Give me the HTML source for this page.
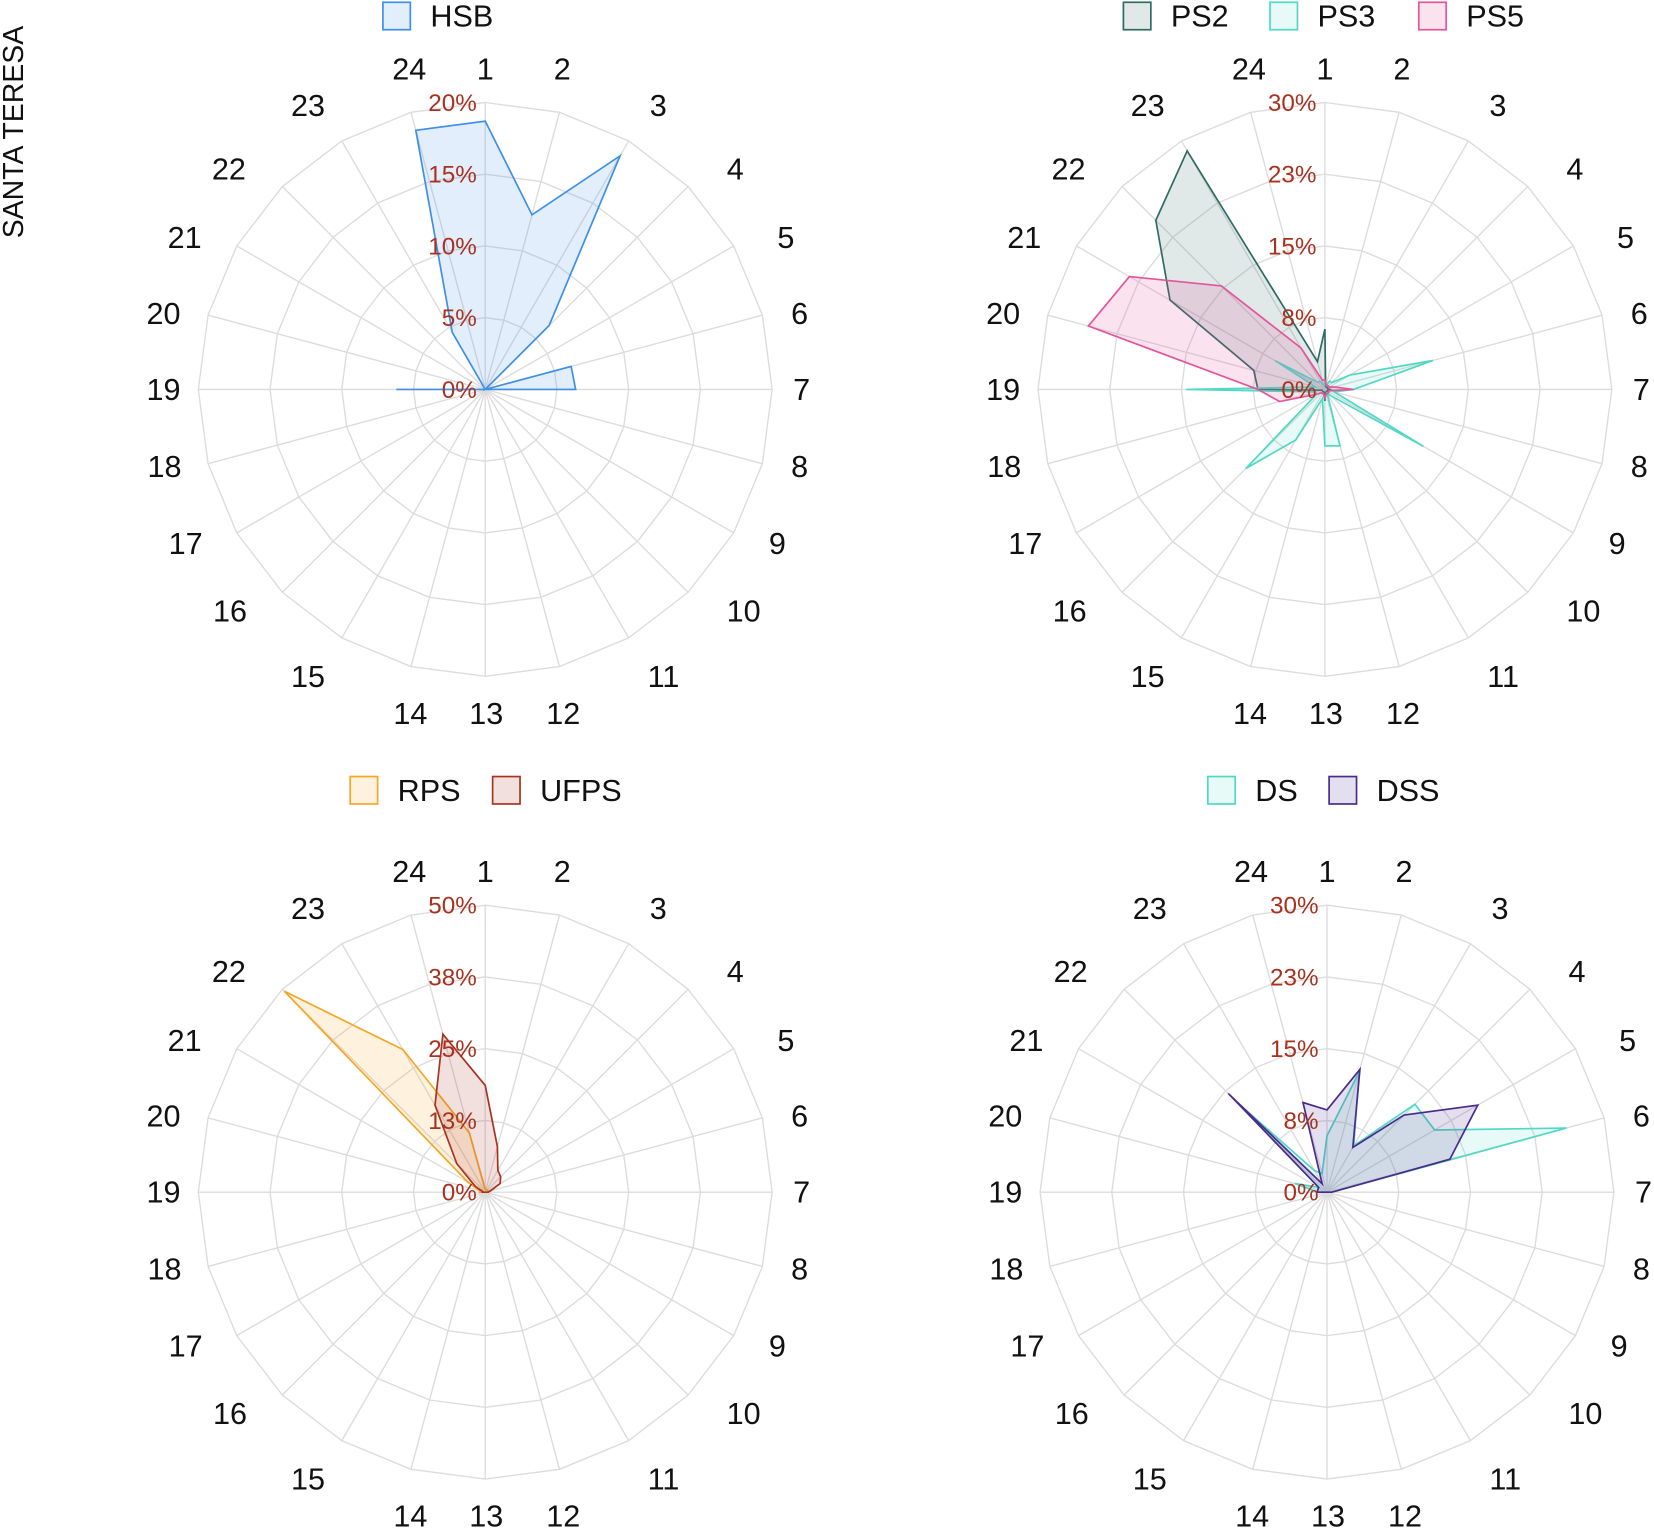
<!DOCTYPE html>
<html><head><meta charset="utf-8"><style>
html,body{margin:0;padding:0;background:#fff;}
svg{display:block;font-family:"Liberation Sans",Arial,sans-serif;}
</style></head><body>
<svg id="chart" width="1654" height="1532" viewBox="0 0 1568 1452" xmlns="http://www.w3.org/2000/svg">
<text x="0" y="0" transform="translate(22,125) rotate(-90)" text-anchor="middle" font-size="27" fill="#111">SANTA TERESA</text>
</svg>
<script>
const hours = ["1","2","3","4","5","6","7","8","9","10","11","12","13","14","15","16","17","18","19","20","21","22","23","24"];
const hsb  = [18.7,12.6,18.8,6.3,0,6.2,6.3,0,0,0,0,0,0,0,0,0,0,0,6.2,0,0,0,4.6,18.7];
const ps2  = [6.3,0.3,0.3,0.3,0.3,0.3,0.5,0.3,0.3,0.3,0.3,0.3,1.2,0.3,0.3,0.3,0.3,0.3,7,7.7,18.7,25,28.8,3];
const ps3  = [0.5,0.5,1,1,3,11.7,3,1,11.9,1,0.5,6.1,5.9,1,6.1,11.7,1,1,14.5,1,6,1,1,0.5];
const ps5  = [1,0.5,0.5,0.5,0.5,1,3,0.5,0.5,0.5,0.5,0.5,1,0.5,0.5,0.5,1,4.9,7,25.6,23.6,15.3,5,1];
const rps  = [0.5,0.5,0.5,0.5,0.5,0.5,0.5,0,0,0,0,0,0,0,0,0,0,0,1,1,3.5,49.5,28.7,10.7];
const ufps = [18.6,8.2,4.4,3.8,3,1,0.5,0,0,0,0,0,0,0,0,0,0,0,0.5,0.5,2,7,17.5,28.5];
const ds   = [5.9,13,5.6,13,13,25.9,0.5,0,0,0,0,0,0,0,0,0,0,0,1,3.5,1,13.1,2.6,2];
const dss  = [8.6,13.3,5.4,11.4,18.2,13.3,0.5,0,0,0,0,0,0,0,0,0,0,0,1,1,1,14.6,1,9.7];
const ticks1 = ["0%","5%","10%","15%","20%"];
const ticks2 = ["0%","8%","15%","23%","30%"];
const ticks3 = ["0%","13%","25%","38%","50%"];
const ticks4 = ["0%","8%","15%","23%","30%"];
const max1 = 20, max2 = 30, max3 = 50, max4 = 30;

const NS = "http://www.w3.org/2000/svg";
const svg = document.getElementById("chart");
const R = 272;
const lblOff = [[0,-304],[73,-304],[164,-269],[237,-209],[285,-144],[298,-72],[300,0],[298,73],[277,146],[245,210],[169,272],[74,307],[1,307],[-71,307],[-168,272],[-242,210],[-284,146],[-304,73],[-305,0],[-305,-72],[-285,-144],[-243,-209],[-168,-269],[-72,-304]];
function mk(tag, attrs){const e=document.createElementNS(NS,tag);for(const k in attrs)e.setAttribute(k,attrs[k]);return e;}
function angle(i){return i*2*Math.PI/hours.length;}
function pt(cx,cy,v,max,i){const r=v/max*R;return [cx+r*Math.sin(angle(i)), cy-r*Math.cos(angle(i))];}

function drawChart(cx,cy,max,ticks,series,name){
  const g = mk("g",{});
  
  
  svg.appendChild(g);
  for(let k=1;k<ticks.length;k++){
    const pts=hours.map((h,i)=>pt(cx,cy,k*max/(ticks.length-1),max,i).join(",")).join(" ");
    const ring=mk("polygon",{points:pts,fill:"none",stroke:"#dcdcdc","stroke-width":"1.3"});
    
    
    g.appendChild(ring);
  }
  hours.forEach((h,i)=>{
    const p=pt(cx,cy,max,max,i);
    const sp=mk("line",{x1:cx,y1:cy,x2:p[0],y2:p[1],stroke:"#dcdcdc","stroke-width":"1.3"});
    
    
    g.appendChild(sp);
    const t=mk("text",{x:cx+lblOff[i][0],y:cy+lblOff[i][1]+10,"text-anchor":"middle","font-size":"29",fill:"#111"});
    t.textContent=h;
    
    
    g.appendChild(t);
  });
  series.forEach(s=>{
    const pts=s.values.map((v,i)=>pt(cx,cy,v,max,i).join(",")).join(" ");
    const poly=mk("polygon",{points:pts,fill:s.fill,stroke:s.stroke,"stroke-width":"1.6","stroke-linejoin":"miter"});
    
    
    g.appendChild(poly);
  });
  ticks.forEach((tk,k)=>{
    const y=cy-k*R/(ticks.length-1);
    const t=mk("text",{x:cx-8,y:y+8,"text-anchor":"end","font-size":"23",fill:"#a8321f"});
    t.textContent=tk;
    
    
    g.appendChild(t);
  });
}
function legend(items,y){
  items.forEach(it=>{
    const lg=mk("g",{});
    
    
    lg.appendChild(mk("rect",{x:it.x,y:y-13,width:26,height:26,fill:it.fill,stroke:it.stroke,"stroke-width":"1.6"}));
    const t=mk("text",{x:it.x+45,y:y+10,"font-size":"29",fill:"#111"});
    t.textContent=it.name;
    lg.appendChild(t);
    svg.appendChild(lg);
  });
}
const C = {
  hsb:{stroke:"#3d8fe8",fill:"rgba(61,143,232,0.15)"},
  ps2:{stroke:"#2e6b62",fill:"rgba(46,107,98,0.15)"},
  ps3:{stroke:"#4fd8c4",fill:"rgba(79,216,196,0.13)"},
  ps5:{stroke:"#e4559c",fill:"rgba(228,85,156,0.17)"},
  rps:{stroke:"#f5a623",fill:"rgba(245,166,35,0.15)"},
  ufps:{stroke:"#a8321f",fill:"rgba(168,50,31,0.15)"},
  ds:{stroke:"#4fd8c4",fill:"rgba(79,216,196,0.13)"},
  dss:{stroke:"#4b2a8c",fill:"rgba(75,42,140,0.15)"}
};
drawChart(460,369,max1,ticks1,[{name:"HSB",values:hsb,...C.hsb}],"radar-hsb");
drawChart(1256,369,max2,ticks2,[{name:"PS2",values:ps2,...C.ps2},{name:"PS3",values:ps3,...C.ps3},{name:"PS5",values:ps5,...C.ps5}],"radar-ps");
drawChart(460,1130,max3,ticks3,[{name:"RPS",values:rps,...C.rps},{name:"UFPS",values:ufps,...C.ufps}],"radar-fps");
drawChart(1258,1130,max4,ticks4,[{name:"DS",values:ds,...C.ds},{name:"DSS",values:dss,...C.dss}],"radar-ds");
legend([{name:"HSB",x:363,...C.hsb}],15);
legend([{name:"PS2",x:1065,...C.ps2},{name:"PS3",x:1204,...C.ps3},{name:"PS5",x:1345,...C.ps5}],15);
legend([{name:"RPS",x:332,...C.rps},{name:"UFPS",x:467,...C.ufps}],749);
legend([{name:"DS",x:1145,...C.ds},{name:"DSS",x:1260,...C.dss}],749);
</script>
</body></html>
